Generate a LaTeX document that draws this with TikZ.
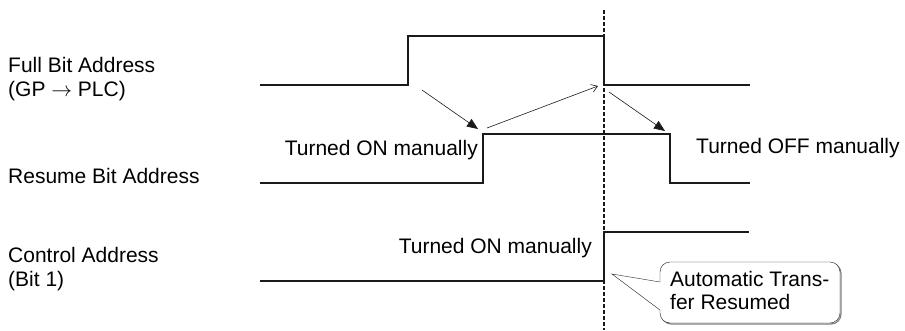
\documentclass[tikz,border=0pt]{standalone}
\usepackage{fontspec}
\setmainfont{Liberation Sans}
\usepackage{tikz}
\usetikzlibrary{arrows.meta}
\tikzset{sig/.style={line width=1.7pt,ink},
cause/.style={-{Triangle[length=11pt,width=9pt]},semithick,ink},
back/.style={-{Straight Barb[length=6pt,width=8pt]},semithick,ink},
markline/.style={ink,line width=1.4pt,dash pattern=on 3.5pt off 2.5pt},
lbl/.style={inner sep=0pt,font=\fontsize{21}{24}\selectfont}}
\definecolor{ink}{HTML}{1A1A1A}

\begin{document}
\begin{tikzpicture}[x=1pt,y=-1pt]
\useasboundingbox (0,0) rectangle (905,330);
% signal names
\node[lbl,anchor=north west,align=left] (fbname) at (8,57) {Full Bit Address\\(GP $\rightarrow$ PLC)};
\node[lbl,anchor=base west] (rbname) at (8,183) {Resume Bit Address};
\node[lbl,anchor=north west,align=left] (caname) at (8,247) {Control Address\\(Bit 1)};
% edges
\coordinate (fb up) at (408,36); \coordinate (fb down) at (604,85);
\coordinate (rb up) at (483,134); \coordinate (rb down) at (670,183);
\coordinate (ca up) at (604,232);
\coordinate (mark top) at (604,10); \coordinate (mark bot) at (604,330);
\draw[markline] (mark top)--(mark bot);
\draw[sig] (260,85) -| (fb up) -| (fb down) -- (750,85);
\draw[sig] (260,183) -| (rb up) -| (rb down) -- (750,183);
\draw[sig] (260,281) -| (ca up) -- (749,232);
% cause and effect
\coordinate (a1) at (422,90); \coordinate (a2) at (478,129);
\coordinate (b1) at (487,128); \coordinate (b2) at (598,86);
\coordinate (c1) at (609,92); \coordinate (c2) at (665,131);
\draw[cause] (a1)--(a2);
\draw[back] (b1)--(b2);
\draw[cause] (c1)--(c2);
\node[lbl,anchor=base east] (on1) at (478,155) {Turned ON manually};
\node[lbl,anchor=base west] (off1) at (696,153) {Turned OFF manually};
\node[lbl,anchor=base east] (on2) at (592,253) {Turned ON manually};
% callout
\coordinate (tip) at (612,274);
\coordinate (p1) at (660,282); \coordinate (p2) at (660,310);
\draw[gray,line width=1.2pt,rounded corners=10pt] (661.5,263.5) rectangle (841,324);
\draw[ink,thin,fill=white,rounded corners=10pt] (660,262) rectangle (840,323);
\draw[white,line width=1.5pt] (p1)--(p2);
\draw[ink,thin] (p1)--(tip)--(p2);
\node[lbl,anchor=north west,align=left,font=\fontsize{21}{23}\selectfont] (note) at (670,271) {Automatic Trans-\\fer Resumed};
\end{tikzpicture}
\end{document}
